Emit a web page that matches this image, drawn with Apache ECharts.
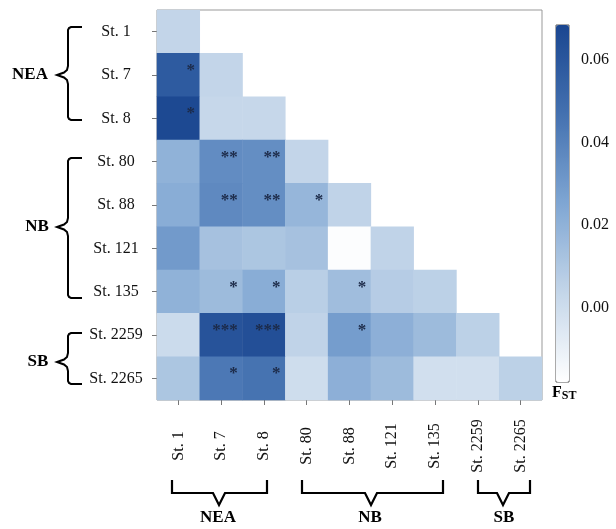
<!DOCTYPE html>
<html>
<head>
<meta charset="utf-8">
<script src="https://cdn.jsdelivr.net/npm/echarts@6/dist/echarts.min.js"></script>
<style>
  html, body { margin: 0; padding: 0; background: #fff; }
  #chart { width: 616px; height: 529px; }
</style>
</head>
<body>
<div id="chart"></div>
<script>
// station order (top to bottom, left to right)
const stations = ['St. 1', 'St. 7', 'St. 8', 'St. 80', 'St. 88', 'St. 121', 'St. 135', 'St. 2259', 'St. 2265']

// pairwise FST, lower triangle incl. diagonal (row i, columns 0..i)
const fstRows = [
  [0.004],
  [0.058, 0.004],
  [0.067, 0.003, 0.003],
  [0.020, 0.036, 0.035, 0.004],
  [0.022, 0.037, 0.035, 0.018, 0.005],
  [0.030, 0.013, 0.011, 0.013, -0.017, 0.005],
  [0.020, 0.016, 0.022, 0.007, 0.015, 0.008, 0.006],
  [0.001, 0.062, 0.064, 0.005, 0.029, 0.021, 0.016, 0.006],
  [0.011, 0.044, 0.046, 0.000, 0.021, 0.016, -0.001, -0.001, 0.006]
]

// significance marks
const starRows = [
  [''],
  ['*', ''],
  ['*', '', ''],
  ['', '**', '**', ''],
  ['', '**', '**', '*', ''],
  ['', '', '', '', '', ''],
  ['', '*', '*', '', '*', '', ''],
  ['', '***', '***', '', '*', '', '', ''],
  ['', '*', '*', '', '', '', '', '', '']
]

const scaleMin = -0.018
const scaleMax = 0.0685
const scaleTicks = [0, 0.02, 0.04, 0.06]

const serif = 'Liberation Serif'

const cells = []
fstRows.forEach((row, i) => {
  row.forEach((v, j) => {
    cells.push({ value: [j, i, v], star: starRows[i][j] })
  })
})

const chart = echarts.init(document.getElementById('chart'))

// curly brace on the left of the row labels
const brace = (top, mid, bottom) => ({
  type: 'polyline',
  shape: {
    points: [[82, top], [71, top], [69, top + 1], [68, top + 3], [68, mid - 9], [67, mid - 5],
      [64, mid - 2.5], [57, mid], [64, mid + 2.5], [67, mid + 5], [68, mid + 9],
      [68, bottom - 3], [69, bottom - 1], [71, bottom], [82, bottom]]
  },
  style: { stroke: '#000', lineWidth: 2, fill: null }
})

const bottomBracket = (left, mid, right) => ({
  type: 'polyline',
  shape: {
    points: [[left, 480], [left, 493], [mid - 6, 493], [mid, 505], [mid + 6, 493], [right, 493], [right, 480]]
  },
  style: { stroke: '#000', lineWidth: 2.2, fill: null }
})

const groupText = (x, y, text) => ({
  type: 'text',
  x: x, y: y,
  style: {
    text: text, font: 'bold 17px "Liberation Serif"', fill: '#000',
    align: 'center', verticalAlign: 'middle'
  }
})

chart.setOption({
  animation: false,
  grid: [
    { left: 157, top: 10, width: 385, height: 390, show: true, borderColor: '#999', borderWidth: 1 },
    { left: 556, top: 25, width: 13, height: 357, show: true, borderColor: '#555', borderWidth: 1, backgroundColor: 'transparent' }
  ],
  xAxis: [
    {
      type: 'category',
      data: stations,
      gridIndex: 0,
      axisLine: { show: false },
      axisTick: { show: true, alignWithLabel: true, length: 5, lineStyle: { color: '#777' } },
      axisLabel: {
        rotate: 90, align: 'center', margin: 46,
        fontFamily: serif, fontSize: 16, color: '#111'
      },
      splitLine: { show: false }
    },
    { type: 'value', gridIndex: 1, show: false, min: 0, max: 1 }
  ],
  yAxis: [
    {
      type: 'category',
      data: stations,
      inverse: true,
      gridIndex: 0,
      axisLine: { show: false },
      axisTick: { show: true, alignWithLabel: true, length: 5, lineStyle: { color: '#777' } },
      axisLabel: {
        align: 'center', margin: 41,
        fontFamily: serif, fontSize: 16, color: '#111'
      },
      splitLine: { show: false }
    },
    {
      type: 'value',
      gridIndex: 1,
      position: 'right',
      min: scaleMin,
      max: scaleMax,
      axisLine: { show: false },
      axisTick: { show: true, length: 5, customValues: scaleTicks, lineStyle: { color: '#555' } },
      axisLabel: {
        customValues: scaleTicks, margin: 12,
        fontFamily: serif, fontSize: 16, color: '#111',
        formatter: v => v.toFixed(2)
      },
      splitLine: { show: false }
    }
  ],
  visualMap: {
    type: 'continuous',
    seriesIndex: 0,
    min: scaleMin,
    max: scaleMax,
    left: 556,
    top: 25,
    padding: 0,
    itemWidth: 13,
    itemHeight: 357,
    calculable: false,
    text: null,
    inRange: { color: ['#ffffff', '#c4d6e9', '#7fa6d3', '#4471b0', '#1a4690'] }
  },
  series: [
    {
      type: 'heatmap',
      xAxisIndex: 0,
      yAxisIndex: 0,
      data: cells,
      itemStyle: { borderWidth: 0 },
      label: {
        show: true,
        position: 'insideTopRight',
        distance: 5,
        padding: [4, 0, 0, 0],
        fontFamily: serif,
        fontWeight: 'bold',
        fontSize: 17,
        color: '#1c2a48',
        formatter: p => p.data.star
      },
      emphasis: { disabled: true }
    }
  ],
  graphic: [
    brace(27, 75, 120),
    brace(158, 227, 298),
    brace(333, 362, 384),
    groupText(30, 75, 'NEA'),
    groupText(37, 227, 'NB'),
    groupText(38, 362, 'SB'),
    bottomBracket(172, 219, 267),
    bottomBracket(302, 371, 443),
    bottomBracket(478, 503, 530),
    groupText(218, 518, 'NEA'),
    groupText(370, 518, 'NB'),
    groupText(504, 518, 'SB'),
    {
      type: 'text',
      x: 552, y: 384,
      style: {
        text: '{a|F}{b|ST}',
        rich: {
          a: { font: 'bold 16px "Liberation Serif"', fill: '#000' },
          b: { font: 'bold 12px "Liberation Serif"', fill: '#000', padding: [6, 0, 0, 0] }
        }
      }
    }
  ]
})
</script>
</body>
</html>
